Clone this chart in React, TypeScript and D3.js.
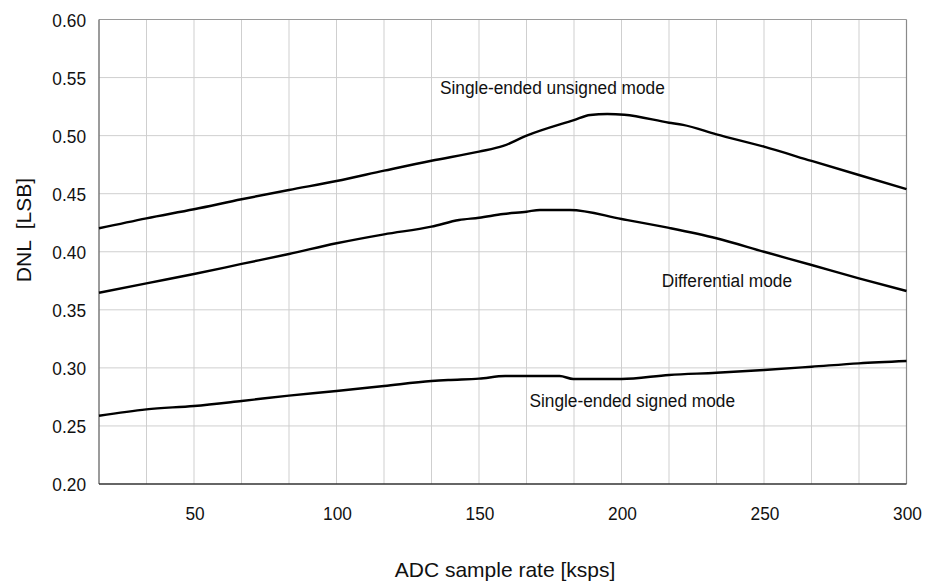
import React from "react";
import * as d3 from "d3";

const unsignedX = [16.67, 33.3, 50, 66.7, 83.3, 100, 116.7, 133.3, 150, 158.5, 166.7, 183.3, 189, 195, 201, 216.7, 221.6, 233.3, 250, 266.7, 283.3, 300];
const unsignedY = [0.4202, 0.4288, 0.4366, 0.4452, 0.4532, 0.4609, 0.4698, 0.4784, 0.4862, 0.4911, 0.5, 0.5134, 0.5178, 0.5186, 0.518, 0.5111, 0.5092, 0.5011, 0.4905, 0.4782, 0.4661, 0.454];

const diffX = [16.67, 33.3, 50, 66.7, 83.3, 100, 116.7, 133.3, 143, 150, 158.5, 166.7, 171.4, 181.9, 200, 216.7, 233.3, 250, 266.7, 283.3, 300];
const diffY = [0.3647, 0.3728, 0.3808, 0.3895, 0.3981, 0.4073, 0.415, 0.4216, 0.4273, 0.4293, 0.4325, 0.4345, 0.436, 0.436, 0.4282, 0.4205, 0.4116, 0.4, 0.3886, 0.3771, 0.3662];

const signedX = [16.67, 33.3, 50, 66.7, 83.3, 100, 116.7, 133.3, 139.2, 150, 159.2, 178.3, 183.1, 200, 216.7, 233.3, 250, 266.7, 283.3, 300];
const signedY = [0.2588, 0.2643, 0.2672, 0.2715, 0.2761, 0.2801, 0.2844, 0.2887, 0.2896, 0.2907, 0.293, 0.293, 0.2904, 0.2904, 0.2939, 0.2958, 0.2982, 0.301, 0.3039, 0.3059];

const xTickLabels = [50, 100, 150, 200, 250, 300];
const yTickLabels = [0.2, 0.25, 0.3, 0.35, 0.4, 0.45, 0.5, 0.55, 0.6];
const xGridCount = 17;

const seriesLabels = [
  { text: "Single-ended unsigned mode", x: 136.3, y: 0.5356 },
  { text: "Differential mode", x: 214.1, y: 0.3699 },
  { text: "Single-ended signed mode", x: 167.7, y: 0.266 },
];

const FONT = "'Liberation Sans', Arial, Helvetica, sans-serif";

export default function App() {
  const W = 925, H = 586;
  const x = d3.scaleLinear().domain([50 / 3, 300]).range([99, 906.5]);
  const y = d3.scaleLinear().domain([0.2, 0.6]).range([484, 19.5]);
  const line = d3
    .line<[number, number]>()
    .x((d) => x(d[0]))
    .y((d) => y(d[1]))
    .curve(d3.curveMonotoneX);
  const series = [
    d3.zip(unsignedX, unsignedY) as [number, number][],
    d3.zip(diffX, diffY) as [number, number][],
    d3.zip(signedX, signedY) as [number, number][],
  ];
  const gridX = d3.range(1, xGridCount).map((i) => 50 / 3 + (i * (300 - 50 / 3)) / xGridCount);
  const [x0, x1] = x.range();
  const [y0, y1] = y.range();

  return (
    <svg
      width={W}
      height={H}
      style={{ position: "absolute", left: 0, top: 0, background: "#fff" }}
      fontFamily={FONT}
    >
      <rect x={0} y={0} width={W} height={H} fill="#fff" />
      {gridX.map((g, i) => (
        <line key={"gx" + i} x1={x(g)} x2={x(g)} y1={y1} y2={y0} stroke="#cfcfcf" strokeWidth={1} />
      ))}
      {yTickLabels.slice(1, -1).map((v, i) => (
        <line key={"gy" + i} x1={x0} x2={x1} y1={y(v)} y2={y(v)} stroke="#cfcfcf" strokeWidth={1} />
      ))}
      <line x1={x0} x2={x1} y1={y1} y2={y1} stroke="#9a9a9a" strokeWidth={1.2} />
      <line x1={x1} x2={x1} y1={y1} y2={y0} stroke="#8a8a8a" strokeWidth={1.2} />
      <line x1={x0} x2={x0} y1={y1} y2={y0} stroke="#7a7a7a" strokeWidth={1.5} />
      <line x1={x0} x2={x1} y1={y0} y2={y0} stroke="#333" strokeWidth={1.5} />

      {series.map((s, i) => (
        <path key={"s" + i} d={line(s) || ""} fill="none" stroke="#000" strokeWidth={2.4} />
      ))}

      {yTickLabels.map((v, i) => (
        <text
          key={"yl" + i}
          transform={`translate(86,${y(v) + 7}) scale(0.91,1)`}
          textAnchor="end"
          fontSize={19}
          fill="#111"
        >
          {v.toFixed(2)}
        </text>
      ))}
      {xTickLabels.map((v, i) => (
        <text
          key={"xl" + i}
          transform={`translate(${x(v) + 1},520) scale(0.91,1)`}
          textAnchor="middle"
          fontSize={19}
          fill="#111"
        >
          {v}
        </text>
      ))}

      {seriesLabels.map((l, i) => (
        <text
          key={"sl" + i}
          transform={`translate(${x(l.x)},${y(l.y)}) scale(0.91,1)`}
          fontSize={19}
          fill="#111"
        >
          {l.text}
        </text>
      ))}

      <text x={505} y={577} textAnchor="middle" fontSize={21} fill="#111">
        ADC sample rate [ksps]
      </text>
      <text
        transform="translate(31,230) rotate(-90)"
        textAnchor="middle"
        fontSize={21}
        fill="#111"
        style={{ whiteSpace: "pre" }}
      >
        {"DNL  [LSB]"}
      </text>
    </svg>
  );
}
